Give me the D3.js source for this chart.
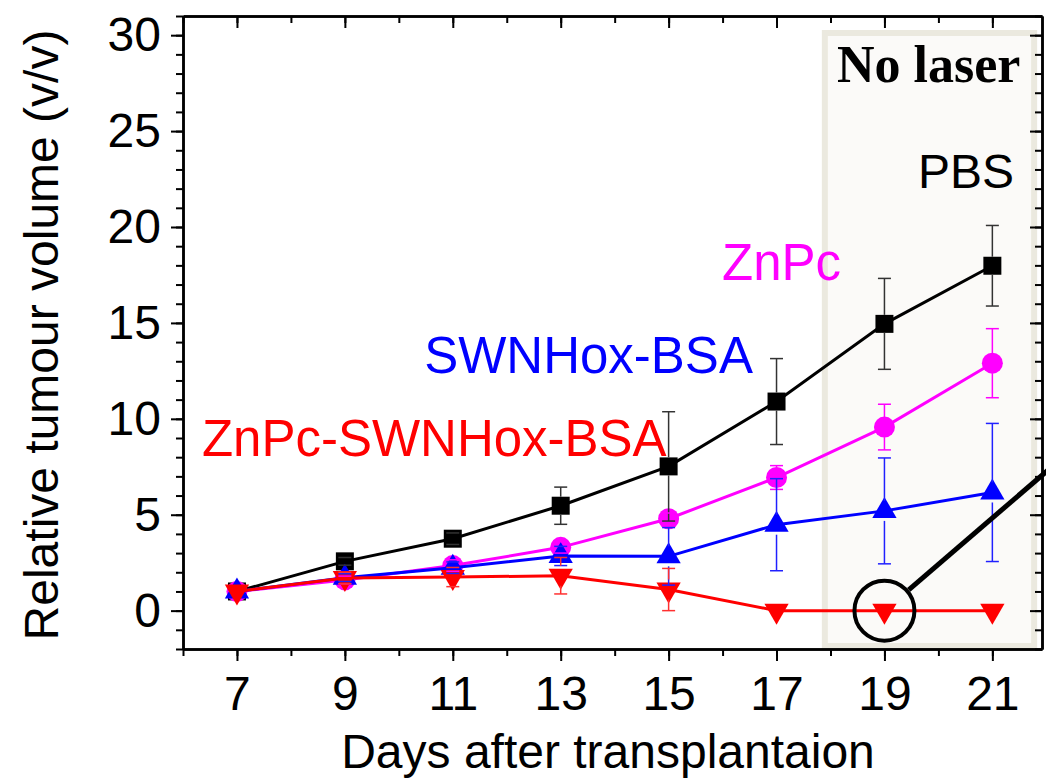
<!DOCTYPE html>
<html>
<head>
<meta charset="utf-8">
<script src="https://cdn.jsdelivr.net/npm/d3@7"></script>
<style>
  body { margin: 0; background: #fff; }
  svg { display: block; }
</style>
</head>
<body>
<script>
// days after transplantation
var days = [7, 9, 11, 13, 15, 17, 19, 21];

// relative tumour volume, one array per group
var pbs      = [1.0, 2.57, 3.75, 5.47, 7.52, 10.9, 14.95, 17.98];
var pbsErr   = [0, 0.2, 0.3, 0.97, 2.85, 2.24, 2.37, 2.1];
var znpc     = [1.0, 1.6, 2.35, 3.3, 4.79, 6.94, 9.57, 12.9];
var znpcErr  = [0, 0.2, 0.3, 0.3, 0.3, 0.62, 1.19, 1.8];
var swnh     = [1.0, 1.72, 2.24, 2.85, 2.83, 4.48, 5.2, 6.16];
var swnhErr  = [0, 0.2, 0.3, 0.5, 1.5, 2.4, 2.76, 3.6];
var combo    = [1.0, 1.7, 1.75, 1.82, 1.1, 0, 0, 0];
var comboErr = [0, 0.3, 0.5, 0.95, 1.1, 0, 0, 0];

var xMajorTicks = [7, 9, 11, 13, 15, 17, 19, 21];
var yMajorTicks = [0, 5, 10, 15, 20, 25, 30];

var labels = ["ZnPc-SWNHox-BSA", "SWNHox-BSA", "ZnPc", "PBS"];

var svgWidth = 1046;
var svgHeight = 778;

var xScale = d3.scaleLinear().domain([6, 21.92]).range([183, 1042]);
var yScale = d3.scaleLinear().domain([-2, 31]).range([649, 16]);

var svg = d3.select('body').append('svg')
    .attr('width', svgWidth)
    .attr('height', svgHeight)
    .style('font-family', '"Liberation Sans", Arial, sans-serif');

// "No laser" shaded box
var bx0 = xScale(17.84), bx1 = xScale(21.83);
var by0 = yScale(30.27), by1 = yScale(-2);
svg.append('rect')
    .attr('x', bx0 + 3)
    .attr('y', by0 + 3)
    .attr('width', bx1 - bx0 - 6)
    .attr('height', by1 - by0 - 6)
    .attr('fill', '#fbfaf8')
    .attr('stroke', '#ebe9df')
    .attr('stroke-width', 6);

svg.append('text')
    .attr('x', xScale(18.12))
    .attr('y', yScale(27.56))
    .attr('font-family', '"Liberation Serif", "Times New Roman", serif')
    .attr('font-weight', 'bold')
    .attr('font-size', 52)
    .text('No laser');

// axes
var minorX = d3.range(6, 22, 1);
var minorY = d3.range(-2, 32, 1);

function styleAxis(g) {
    g.select('.domain').attr('stroke-width', 2.5);
    g.selectAll('.tick line').attr('stroke-width', 2);
}

var bottomMinor = svg.append('g')
    .attr('transform', 'translate(0,649)')
    .call(d3.axisBottom(xScale).tickValues(minorX).tickSize(7).tickSizeOuter(0).tickFormat(''));
styleAxis(bottomMinor);
var bottomMajor = svg.append('g')
    .attr('transform', 'translate(0,649)')
    .call(d3.axisBottom(xScale).tickValues(xMajorTicks).tickSize(12).tickSizeOuter(0).tickPadding(15));
styleAxis(bottomMajor);
bottomMajor.selectAll('text').attr('font-size', 48).attr('font-family', '"Liberation Sans", Arial, sans-serif');

var leftMinor = svg.append('g')
    .attr('transform', 'translate(183,0)')
    .call(d3.axisLeft(yScale).tickValues(minorY).tickSize(7).tickSizeOuter(0).tickFormat(''));
styleAxis(leftMinor);
var leftMajor = svg.append('g')
    .attr('transform', 'translate(183,0)')
    .call(d3.axisLeft(yScale).tickValues(yMajorTicks).tickSize(12).tickSizeOuter(0).tickPadding(10));
styleAxis(leftMajor);
leftMajor.selectAll('text').attr('font-size', 48).attr('font-family', '"Liberation Sans", Arial, sans-serif');

// top and right frame, ticks pointing inward
var topMinor = svg.append('g')
    .attr('transform', 'translate(0,16)')
    .call(d3.axisBottom(xScale).tickValues(minorX).tickSize(7).tickSizeOuter(0).tickFormat(''));
styleAxis(topMinor);
var topMajor = svg.append('g')
    .attr('transform', 'translate(0,16)')
    .call(d3.axisBottom(xScale).tickValues(xMajorTicks).tickSize(12).tickSizeOuter(0).tickFormat(''));
styleAxis(topMajor);
var rightMinor = svg.append('g')
    .attr('transform', 'translate(1042,0)')
    .call(d3.axisLeft(yScale).tickValues(minorY).tickSize(7).tickSizeOuter(0).tickFormat(''));
styleAxis(rightMinor);
var rightMajor = svg.append('g')
    .attr('transform', 'translate(1042,0)')
    .call(d3.axisLeft(yScale).tickValues(yMajorTicks).tickSize(12).tickSizeOuter(0).tickFormat(''));
styleAxis(rightMajor);

// axis titles
svg.append('text')
    .attr('x', 608)
    .attr('y', 768)
    .attr('text-anchor', 'middle')
    .attr('font-size', 48)
    .text('Days after transplantaion');

svg.append('text')
    .attr('transform', 'translate(58,335) rotate(-90)')
    .attr('text-anchor', 'middle')
    .attr('font-size', 48)
    .text('Relative tumour volume (v/v)');

// series
var series = [
    { vals: pbs, err: pbsErr, color: '#000000', barColor: '#333333', symbol: d3.symbolSquare, size: 324, rot: 0, half: 9 },
    { vals: znpc, err: znpcErr, color: '#ff00ff', barColor: '#ff00ff', symbol: d3.symbolCircle, size: 346, rot: 0, half: 10 },
    { vals: swnh, err: swnhErr, color: '#0000ff', barColor: '#2020ff', symbol: d3.symbolTriangle, size: 255, rot: 0, half: 10 },
    { vals: combo, err: comboErr, color: '#ff0000', barColor: '#ff3030', symbol: d3.symbolTriangle, size: 255, rot: 180, half: 10 }
];

var line = d3.line()
    .x(function(d) { return xScale(d[0]); })
    .y(function(d) { return yScale(d[1]); });

series.forEach(function(s) {
    var pts = days.map(function(d, i) { return [d, s.vals[i], s.err[i]]; });
    svg.append('path')
        .datum(pts)
        .attr('d', line)
        .attr('fill', 'none')
        .attr('stroke', s.color)
        .attr('stroke-width', 3);
    svg.append('g').selectAll('path')
        .data(pts)
        .enter()
        .append('path')
        .attr('d', d3.symbol().type(s.symbol).size(s.size))
        .attr('transform', function(d) {
            return 'translate(' + xScale(d[0]) + ',' + yScale(d[1]) + ') rotate(' + s.rot + ')';
        })
        .attr('fill', s.color);
});

// error bars on top, leaving a gap over the symbol
series.forEach(function(s) {
    var pts = days.map(function(d, i) { return [d, s.vals[i], s.err[i]]; })
        .filter(function(d) { return d[2] > 0; });
    var g = svg.append('g')
        .attr('stroke', s.barColor)
        .attr('stroke-width', 1.5)
        .attr('fill', 'none');
    pts.forEach(function(d) {
        var cx = xScale(d[0]);
        var cy = yScale(d[1]);
        var top = yScale(d[1] + d[2]);
        var bot = yScale(d[1] - d[2]);
        if (cy - s.half > top) {
            g.append('line').attr('x1', cx).attr('x2', cx).attr('y1', top).attr('y2', cy - s.half);
        }
        if (cy + s.half < bot) {
            g.append('line').attr('x1', cx).attr('x2', cx).attr('y1', cy + s.half).attr('y2', bot);
        }
        g.append('line').attr('x1', cx - 6.5).attr('x2', cx + 6.5).attr('y1', top).attr('y2', top);
        g.append('line').attr('x1', cx - 6.5).attr('x2', cx + 6.5).attr('y1', bot).attr('y2', bot);
    });
});

// group labels
var labelPos = [[6.35, 8.06], [10.47, 12.39], [15.99, 17.24], [19.62, 22.04]];
var labelColors = ['#ff0000', '#0000ff', '#ff00ff', '#000000'];
var labelSizes = [51, 51, 51, 48];
labels.forEach(function(t, i) {
    svg.append('text')
        .attr('x', xScale(labelPos[i][0]))
        .attr('y', yScale(labelPos[i][1]))
        .attr('font-size', labelSizes[i])
        .attr('fill', labelColors[i])
        .text(t);
});

// highlight circle at day 19 with pointer line
var cx = xScale(19), cy = yScale(0);
var ex = xScale(22.08), ey = yScale(7.44);
var dx = ex - cx, dy = ey - cy, len = Math.sqrt(dx * dx + dy * dy);
svg.append('circle')
    .attr('cx', cx)
    .attr('cy', cy)
    .attr('r', 30)
    .attr('fill', 'none')
    .attr('stroke', '#000')
    .attr('stroke-width', 4);
svg.append('line')
    .attr('x1', cx + dx / len * 32)
    .attr('y1', cy + dy / len * 32)
    .attr('x2', ex)
    .attr('y2', ey)
    .attr('stroke', '#000')
    .attr('stroke-width', 5);
</script>
</body>
</html>
